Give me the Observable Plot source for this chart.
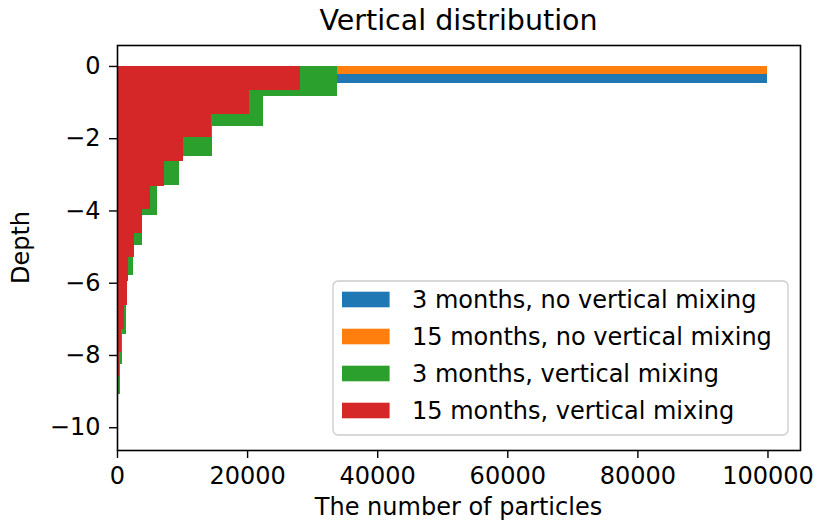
<!DOCTYPE html>
<html>
<head>
<meta charset="utf-8">
<script src="https://cdn.jsdelivr.net/npm/d3@7"></script>
<script src="https://cdn.jsdelivr.net/npm/@observablehq/plot@0.6"></script>
<style>
  body { margin: 0; background: #fff; }
  #chart { width: 814px; height: 524px; }
  svg text { font-family: "DejaVu Sans", sans-serif; }
</style>
</head>
<body>
<div id="chart"></div>
<script>
// ---- data ----
const seriesNames = [
  "3 months, no vertical mixing",
  "15 months, no vertical mixing",
  "3 months, vertical mixing",
  "15 months, vertical mixing"
];
const seriesColors = ["#1f77b4", "#ff7f0e", "#2ca02c", "#d62728"];

// bin edges (depth) and counts per series
const blueEdges = [-0.23, -0.48];
const blueCounts = [100000];

const orangeEdges = [0, -0.23];
const orangeCounts = [100000];

const greenEdges = [0, -0.83, -1.65, -2.48, -3.30, -4.13, -4.96, -5.78, -6.61, -7.43, -8.26, -9.09];
const greenCounts = [33825, 22400, 14550, 9550, 6110, 3900, 2490, 1600, 1450, 820, 420];

const redEdges = [0, -0.66, -1.32, -1.98, -2.64, -3.31, -3.97, -4.63, -5.29, -5.95, -6.61, -7.27, -7.93, -8.59];
const redCounts = [28080, 20250, 14520, 10215, 7250, 5040, 3920, 2640, 1650, 1550, 1100, 620, 380];

const xTicks = [0, 20000, 40000, 60000, 80000, 100000];
const yTicks = [0, -2, -4, -6, -8, -10];

const titleText = "Vertical distribution";
const xLabel = "The number of particles";
const yLabel = "Depth";

// ---- build table ----
const seriesData = [
  [blueEdges, blueCounts],
  [orangeEdges, orangeCounts],
  [greenEdges, greenCounts],
  [redEdges, redCounts]
];
const rows = [];
seriesData.forEach(([edges, counts], s) => {
  counts.forEach((c, i) => {
    rows.push({series: seriesNames[s], count: c, top: edges[i], bottom: edges[i + 1]});
  });
});

const W = 814, H = 524;
const mL = 117, mR = 14, mT = 45, mB = 74;
const fs = 24;

const minus = d => (d < 0 ? "\u2212" + Math.abs(d) : String(d));

const plot = Plot.plot({
  width: W,
  height: H,
  marginLeft: mL,
  marginRight: mR,
  marginTop: mT,
  marginBottom: mB,
  style: {background: "#fff", color: "#000", fontSize: fs + "px", fontFamily: "DejaVu Sans, sans-serif", overflow: "visible"},
  x: {domain: [0, 105000]},
  y: {domain: [-10.63, 0.58]},
  color: {domain: seriesNames, range: seriesColors},
  marks: [
    // overlapping (not stacked) histogram bars, drawn in series order
    Plot.rect(rows, {x1: 0, x2: "count", y1: "bottom", y2: "top", fill: "series", shapeRendering: "crispEdges"}),
    Plot.axisX({ticks: xTicks, tickFormat: d => String(d), tickSize: 8, tickPadding: 8, fontSize: fs, strokeWidth: 1.4, label: null}),
    Plot.axisY({ticks: yTicks, tickFormat: minus, tickSize: 8, tickPadding: 9, fontSize: fs, strokeWidth: 1.4, label: null}),
    Plot.frame({stroke: "#000", strokeWidth: 1.6})
  ]
});

document.getElementById("chart").appendChild(plot);

const svg = d3.select(plot);
const cx = (mL + (W - mR)) / 2;

svg.append("text")
  .attr("x", cx).attr("y", 30)
  .attr("text-anchor", "middle")
  .attr("font-size", 28.5)
  .attr("fill", "#000")
  .text(titleText);

svg.append("text")
  .attr("x", cx).attr("y", 515)
  .attr("text-anchor", "middle")
  .attr("font-size", fs)
  .attr("fill", "#000")
  .text(xLabel);

svg.append("text")
  .attr("transform", `translate(29, ${(mT + (H - mB)) / 2}) rotate(-90)`)
  .attr("text-anchor", "middle")
  .attr("font-size", fs)
  .attr("fill", "#000")
  .text(yLabel);

// legend (matplotlib-style, lower right)
const lg = svg.append("g").attr("text-anchor", "start");
lg.append("rect")
  .attr("x", 333).attr("y", 281)
  .attr("width", 455).attr("height", 154)
  .attr("rx", 5)
  .attr("fill", "#fff").attr("fill-opacity", 0.8)
  .attr("stroke", "#cccccc").attr("stroke-width", 1.3);
seriesNames.forEach((name, i) => {
  const cy = 299.5 + i * 37;
  lg.append("rect")
    .attr("x", 342).attr("y", cy - 7.8)
    .attr("width", 47.6).attr("height", 15.6)
    .attr("fill", seriesColors[i]);
  lg.append("text")
    .attr("x", 412).attr("y", cy)
    .attr("dy", "0.36em")
    .attr("text-anchor", "start")
    .attr("font-size", fs)
    .attr("fill", "#000")
    .text(name);
});
</script>
</body>
</html>
